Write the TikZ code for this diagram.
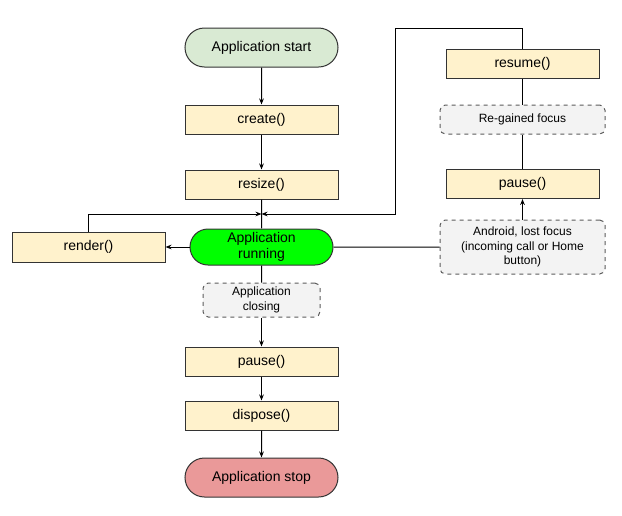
\documentclass[tikz,border=0pt]{standalone}
\usepackage{fontspec}
\setmainfont{Liberation Sans}
\usetikzlibrary{shapes.misc,arrows.meta}
\definecolor{boxfill}{HTML}{FFF2CC}
\definecolor{startfill}{HTML}{D9EAD3}
\definecolor{stopfill}{HTML}{EA9999}
\definecolor{runfill}{HTML}{00FF00}
\definecolor{notefill}{HTML}{F3F3F3}
\definecolor{edge}{HTML}{333333}
\tikzset{
  fbox/.style={draw=edge, line width=0.75pt, fill=boxfill, minimum width=114.75pt, minimum height=21.75pt, inner sep=0pt, font=\fontsize{10.5}{12.5}\selectfont},
  stadium/.style={rounded rectangle, draw=edge, line width=0.75pt, minimum width=114.75pt, minimum height=29.25pt, inner sep=0pt, font=\fontsize{10.5}{12.5}\selectfont},
  note/.style={draw=edge!80, dashed, line width=0.75pt, fill=notefill, rounded corners=4pt, inner sep=0pt, align=center, font=\fontsize{9}{11}\selectfont},
  conn/.style={draw=black, line width=0.75pt},
  arr/.style={conn, -{Stealth[length=4.5pt,width=3.5pt]}},
}
\begin{document}
\begin{tikzpicture}[x=0.75pt,y=-0.75pt]
\useasboundingbox (0,0) rectangle (622,515);
% left column
\node[stadium, fill=startfill] (start) at (261.5,47.5) {Application start};
\node[fbox] (create) at (261.5,119.5) {create()};
\node[fbox] (resize) at (261.5,184.5) {resize()};
\node[stadium, fill=runfill, minimum width=107.25pt, minimum height=27pt, align=center, font=\fontsize{10.5}{12}\selectfont] (run) at (261.5,247) {Application\\running};
\node[fbox, minimum height=22.5pt] (render) at (88.5,247) {render()};
\node[note, minimum width=87.75pt, minimum height=25.5pt] (closing) at (261.5,300) {Application\\closing};
\node[fbox] (pause1) at (261.5,361.5) {pause()};
\node[fbox] (dispose) at (261.5,415.5) {dispose()};
\node[stadium, fill=stopfill] (stop) at (261.5,477.5) {Application stop};
% right column
\node[fbox] (resume) at (522.5,64) {resume()};
\node[note, minimum width=123.75pt, minimum height=21.75pt] (regain) at (522.5,119.5) {Re-gained focus};
\node[fbox] (pause2) at (522.5,184) {pause()};
\node[note, minimum width=123.75pt, minimum height=40.5pt] (lost) at (522.5,247) {Android, lost focus\\(incoming call or Home\\button)};
\coordinate (J) at (261.5,214);
\coordinate (T1) at (395,28);
\coordinate (T2) at (395,214);
% connectors
\draw[arr] (start) -- (create);
\draw[arr] (create) -- (resize);
\draw[conn] (resize) -- (run);
\draw[arr] (run) -- (render);
\draw[conn] (run) -- (lost);
\draw[conn] (run) -- (closing);
\draw[arr] (closing) -- (pause1);
\draw[arr] (pause1) -- (dispose);
\draw[arr] (dispose) -- (stop);
\draw[arr] (lost) -- (pause2);
\draw[conn] (pause2) -- (regain);
\draw[conn] (regain) -- (resume);
\draw[arr] (render.north) |- (J);
\draw[arr] (resume.north) |- (T1) -- (T2) -- (J);
\end{tikzpicture}
\end{document}
